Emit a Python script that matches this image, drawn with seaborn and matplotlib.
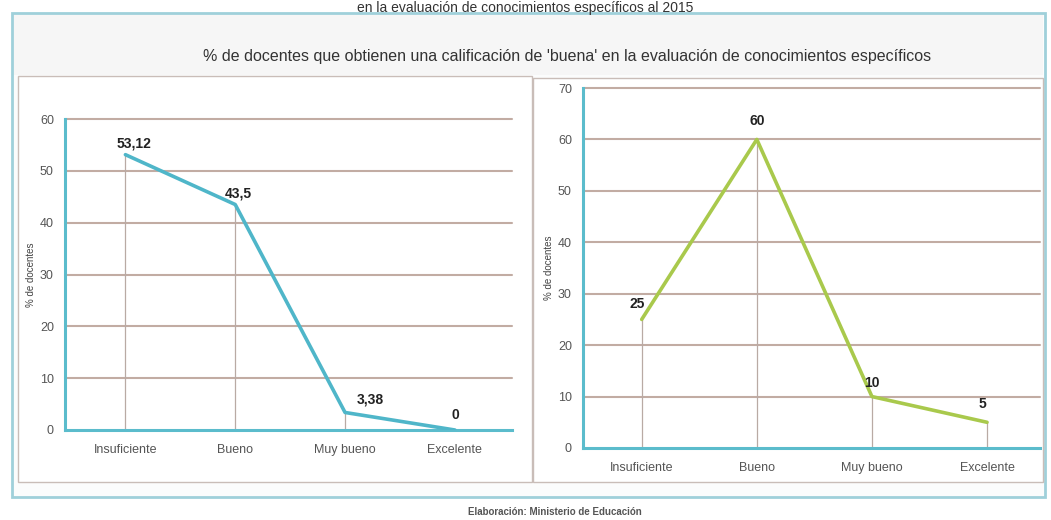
import matplotlib
matplotlib.use("Agg")
import matplotlib.pyplot as plt
import seaborn as sns
import pandas as pd
from matplotlib.patches import Rectangle

# datos
categorias = ["Insuficiente", "Bueno", "Muy bueno", "Excelente"]
izq_valores = [53.12, 43.5, 3.38, 0]
izq_etiquetas = ["53,12", "43,5", "3,38", "0"]
der_valores = [25, 60, 10, 5]
der_etiquetas = ["25", "60", "10", "5"]

titulo_sup = "en la evaluación de conocimientos específicos al 2015"
subtitulo = "% de docentes que obtienen una calificación de 'buena' en la evaluación de conocimientos específicos"
fuente = "Elaboración: Ministerio de Educación"

sns.set_theme(style="white")
plt.rcParams["font.family"] = ["Liberation Sans Narrow", "Liberation Sans", "DejaVu Sans"]

W, H = 1051, 520
fig = plt.figure(figsize=(W / 100, H / 100), dpi=100)

def box(x0, y0, x1, y1, **kw):
    # rectangulo en pixeles (origen arriba a la izquierda)
    fig.patches.append(Rectangle((x0 / W, 1 - y1 / H), (x1 - x0) / W, (y1 - y0) / H,
                                 transform=fig.transFigure, zorder=-10, **kw))

box(12, 13, 1045, 497, facecolor="#fbfcfc", edgecolor="#9fd0da", lw=2)
box(14, 15, 1043, 75, facecolor="#f6f6f6", edgecolor="none")
box(18, 76, 532, 482, facecolor="white", edgecolor="#c9bdb8", lw=1)
box(533, 78, 1043, 482, facecolor="white", edgecolor="#c9bdb8", lw=1)

fig.text(0.5, 1 - 1 / H, titulo_sup, ha="center", va="top", fontsize=10, color="#333333")
fig.text(567 / W, 1 - 57 / H, subtitulo, ha="center", va="center", fontsize=11.5, color="#333333")
fig.text(555 / W, 1 - 512 / H, fuente, ha="center", va="center", fontsize=7, color="#555555",
         fontweight="bold")

def panel(ax_px, valores, etiquetas, ymax, color, xlim, offsets):
    x0, y0, x1, y1 = ax_px
    ax = fig.add_axes([x0 / W, 1 - y1 / H, (x1 - x0) / W, (y1 - y0) / H])
    df = pd.DataFrame({"cat": range(len(categorias)), "val": valores})
    ax.set_facecolor("none")
    for y in range(10, ymax + 1, 10):
        ax.axhline(y, color="#c2aca3", lw=1.5, zorder=1, clip_on=False)
    ax.vlines(df["cat"], 0, df["val"], color="#b9aaa4", lw=0.9, zorder=1)
    sns.lineplot(data=df, x="cat", y="val", ax=ax, color=color, lw=2.6, zorder=3)
    for i, (v, t) in enumerate(zip(valores, etiquetas)):
        dx, dy = offsets[i]
        ax.annotate(t, (i, v), xytext=(dx, dy), textcoords="offset points",
                    ha="center", va="bottom", fontsize=10, fontweight="bold", color="#222222")
    ax.set_xlim(*xlim)
    ax.set_ylim(0, ymax)
    ax.set_yticks(range(0, ymax + 1, 10))
    ax.set_xticks(range(len(categorias)))
    ax.set_xticklabels(categorias)
    ax.tick_params(axis="both", labelsize=9, colors="#555555", length=0, pad=10)
    ax.tick_params(axis="y", pad=8)
    ax.set_xlabel("")
    ax.set_ylabel("% de docentes", fontsize=7, color="#444444", labelpad=3)
    for s in ["top", "right"]:
        ax.spines[s].set_visible(False)
    for s in ["left", "bottom"]:
        ax.spines[s].set_color("#5bbccc")
        ax.spines[s].set_linewidth(2.2)
    return ax

panel((65, 119, 512, 430), izq_valores, izq_etiquetas, 60, "#4fb6c9", (-0.55, 3.52),
      [(6, 3), (2, 3), (18, 4), (0, 6)])
panel((583, 88, 1040, 448), der_valores, der_etiquetas, 70, "#a9c94c", (-0.51, 3.46),
      [(-3, 6), (0, 8), (0, 5), (-3, 8)])

fig.savefig("out.png", dpi=100)
